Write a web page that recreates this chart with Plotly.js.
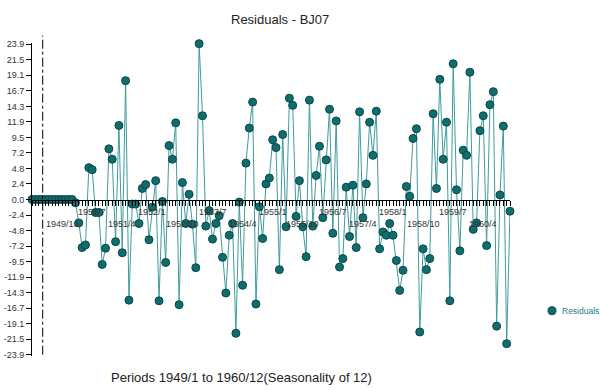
<!DOCTYPE html>
<html>
<head>
<meta charset="utf-8">
<script src="https://cdn.plot.ly/plotly-3.0.1.min.js"></script>
<style>html,body{margin:0;padding:0;background:#fff;}#chart{width:600px;height:390px;}</style>
</head>
<body>
<div id="chart"></div>
<script>
// Residuals 1949/1 .. 1960/12 (144 months)
const residuals = [
  0,0,0,0,0,0,0,0,0,0,0,0,0,
  -0.5,-3.6,-7.4,-7.0,4.9,4.6,-2.0,-2.0,-10.0,-7.5,7.8,6.2,-6.5,11.4,-8.2,18.3,-15.5,
  -0.7,-0.7,-3.7,1.7,2.3,-6.2,-1.2,2.9,-15.6,-0.3,-9.7,8.3,6.2,11.8,-16.2,2.6,-3.7,0.8,
  -3.8,-10.5,24.0,12.9,-4.1,-1.7,-6.1,-3.7,-2.5,-8.9,-14.4,-5.5,-3.7,-20.6,-0.4,-13.2,
  5.6,11.0,15.0,-16.1,-1.1,-6.0,2.4,3.3,9.2,8.0,-10.8,10.0,-4.2,15.6,14.5,-2.6,2.9,-4.2,
  -8.8,15.3,-4.1,3.7,8.2,-2.8,6.1,13.9,-5.2,12.1,-10.4,-9.1,1.9,-5.7,2.2,-7.4,13.5,-2.8,
  2.4,11.9,6.8,13.6,-7.6,-5.0,-5.5,-3.7,-5.5,-9.4,-14.0,-10.9,2.0,0.5,9.4,10.9,-20.4,
  -7.6,-10.8,-9.1,13.2,1.7,18.5,6.2,11.9,-15.6,20.9,1.5,-7.9,7.6,6.8,19.6,-4.6,-3.6,
  10.6,12.9,-7.1,14.6,16.6,-19.5,0.7,11.3,-22.2,-1.8
];
const startYear = 1949;
const periods = residuals.map((_, i) => (startYear + Math.floor(i / 12)) + '/' + (i % 12 + 1));
const periodIndex = residuals.map((_, i) => i);

// x-axis labels (every 9 months), staggered in two rows
const xLabelIdx = [9,18,27,36,45,54,63,72,81,90,99,108,117,126,135];
const xLabelText = ['1949/10','1950/7','1951/4','1952/1','1952/10','1953/7','1954/4','1955/1',
                    '1955/10','1956/7','1957/4','1958/1','1958/10','1959/7','1960/4'];

// y-axis ticks
const yTickVals = [-23.9,-21.51,-19.12,-16.73,-14.34,-11.95,-9.56,-7.17,-4.78,-2.39,0,
                   2.39,4.78,7.17,9.56,11.95,14.34,16.73,19.12,21.51,23.9];
const yTickText = ['-23.9','-21.5','-19.1','-16.7','-14.3','-11.9','-9.5','-7.2','-4.8','-2.4','0.0',
                   '2.4','4.8','7.2','9.5','11.9','14.3','16.7','19.1','21.5','23.9'];

const FONT = 'Liberation Sans, Arial, sans-serif';

const trace = {
  x: periodIndex,
  y: residuals,
  text: periods,
  type: 'scatter',
  mode: 'lines+markers',
  name: 'Residuals',
  cliponaxis: false,
  line: {color: '#3f9c9c', width: 1},
  marker: {size: 8, color: '#0f6d6d', line: {color: '#0a4747', width: 1}},
  hovertemplate: '%{text}: %{y}<extra></extra>'
};

const annotations = xLabelText.map((t, k) => ({
  x: xLabelIdx[k], y: 0, xref: 'x', yref: 'y',
  text: t, showarrow: false, xanchor: 'center', yanchor: 'top',
  yshift: (k % 2 === 0) ? -17 : -5,
  font: {family: FONT, size: 9, color: '#333333'}
}));

annotations.push({
  x: 280, y: 20, xref: 'paper', yref: 'paper', text: 'Residuals - BJ07',
  xanchor: 'center', yanchor: 'middle',
  showarrow: false, font: {family: FONT, size: 13, color: '#222222'}
});
annotations.push({
  x: 241, y: 378, xref: 'paper', yref: 'paper', text: 'Periods 1949/1 to 1960/12(Seasonality of 12)',
  xanchor: 'center', yanchor: 'middle',
  showarrow: false, font: {family: FONT, size: 13, color: '#222222'}
});
annotations.push({
  x: 561, y: 311, xref: 'paper', yref: 'paper', text: 'Residuals',
  xanchor: 'left', yanchor: 'middle', borderpad: 0,
  showarrow: false, font: {family: FONT, size: 8.5, color: '#1b7f7f'}
});

// y range slightly wider than the tick span so the top point stays visible
const YMAX = 24.1;
const ML = 32, MR = 90, W = 600, H = 390;
const pxPerUnit = (355 - 44.7) / (2 * 23.9);
const MT = 44.7 - (YMAX - 23.9) * pxPerUnit;
const MB = (H - 355) - (YMAX - 23.9) * pxPerUnit;
const pw = W - ML - MR, ph = H - MT - MB;

// convert pixel-positioned annotations (x/y in page px) to paper coords
annotations.forEach(a => {
  if (a.xref === 'paper') {
    a.x = (a.x - ML) / pw;
    a.y = (H - MB - a.y) / ph;
  }
});

const shapes = [
  {type: 'line', xref: 'x', yref: 'paper', x0: 3.2, x1: 3.2,
   y0: (H - MB - 355) / ph, y1: (H - MB - 36) / ph,
   line: {color: '#000000', width: 1, dash: 'dashdot'}},
  {type: 'circle', xref: 'paper', yref: 'paper',
   x0: (548 - ML) / pw, x1: (556 - ML) / pw, y0: (H - MB - 315) / ph, y1: (H - MB - 307) / ph,
   fillcolor: '#0f6d6d', line: {color: '#0a4747', width: 1}}
];

const layout = {
  width: W, height: H,
  margin: {l: ML, r: MR, t: MT, b: MB, pad: 0},
  paper_bgcolor: '#ffffff', plot_bgcolor: '#ffffff',
  showlegend: false,
  font: {family: FONT, size: 9, color: '#333333'},
  xaxis: {
    range: [0, 143], anchor: 'free', position: 0.5,
    showgrid: false, zeroline: false, showline: true, linecolor: '#000000', linewidth: 1,
    ticks: 'outside', ticklen: 5, tickcolor: '#000000', tickwidth: 1,
    tickmode: 'array', tickvals: periodIndex, showticklabels: false
  },
  yaxis: {
    range: [-YMAX, YMAX],
    showgrid: false, zeroline: false, showline: true, linecolor: '#000000', linewidth: 1,
    ticks: 'outside', ticklen: 5, tickcolor: '#000000', tickwidth: 1,
    tickmode: 'array', tickvals: yTickVals, ticktext: yTickText,
    tickfont: {family: FONT, size: 9, color: '#333333'}
  },
  annotations: annotations,
  shapes: shapes
};

Plotly.newPlot('chart', [trace], layout, {displayModeBar: false, staticPlot: true});
</script>
</body>
</html>
